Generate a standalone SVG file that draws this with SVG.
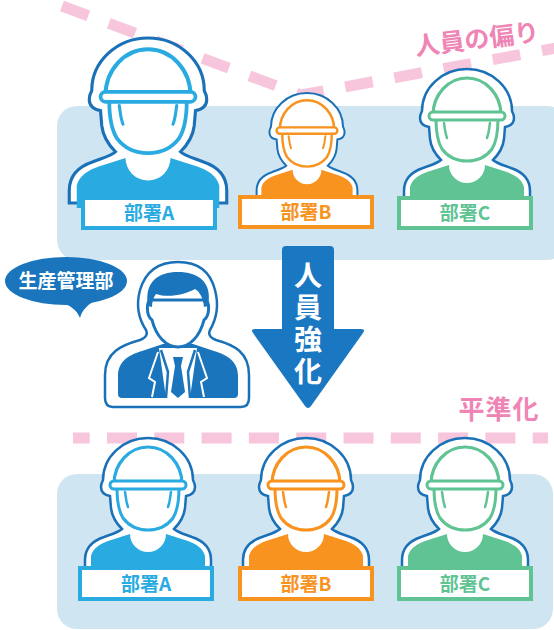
<svg xmlns="http://www.w3.org/2000/svg" xmlns:xlink="http://www.w3.org/1999/xlink" width="554" height="630" viewBox="0 0 554 630">
  <style>
    .panel { fill: #d0e5f2; }
    .dash { fill: none; stroke: #f7c6dd; stroke-width: 11; }
    .pink { fill: #ef85b5; font-family: "Noto Sans CJK JP", "Noto Sans", sans-serif; font-weight: 700; }
    .halo { fill: #fff; stroke: #1a71b8; stroke-width: 2.5; }
    .box { fill: #fff; stroke-width: 4; }
    .lbl { font-family: "Noto Sans CJK JP", "Noto Sans", sans-serif; font-weight: 700; font-size: 19px; text-anchor: middle; }
    .white { fill: #fff; font-family: "Noto Sans CJK JP", "Noto Sans", sans-serif; font-weight: 700; }
    .a { color: #29abe2; }
    .b { color: #f7931e; }
    .c { color: #5fc394; }
  </style>
  <defs>
    <!-- helmeted worker, drawn centred on x=0 with the halo top at y=0 -->
    <g id="worker">
      <path class="halo" d="M -63 132 L -63 122 C -63 110 -56 103 -44 99 C -36 96 -29 94 -26 91 C -31 86 -36 79 -37 70 L -38 58 C -44 57 -47 54 -47 49 C -47 46 -46 44 -45 42 C -45 19 -25 0 0 0 C 25 0 45 19 45 42 C 46 44 47 46 47 49 C 47 54 44 57 38 58 L 37 70 C 36 79 31 86 26 91 C 29 94 36 96 44 99 C 56 103 63 110 63 122 L 63 132 Z"/>
      <path fill="currentColor" d="M -57 136 L -57 118 C -55 110 -48 106 -40 103 L -18 96 A 18 18 0 0 0 18 96 L 40 103 C 48 106 55 110 57 118 L 57 136 Z"/>
      <path fill="#fff" stroke="currentColor" stroke-width="3" d="M -31 50 C -31 62 -30 72 -25 80 C -19 88 -10 92 0 92 C 10 92 19 88 25 80 C 30 72 31 62 31 50 Z"/>
      <path fill="none" stroke="currentColor" stroke-width="2.5" stroke-linecap="round" d="M -23 54 C -22 60 -22 64 -20 69 M 23 54 C 22 60 22 64 20 69"/>
      <path fill="#fff" stroke="currentColor" stroke-width="3.2" d="M -34 46 A 34 37 0 0 1 34 46 Z"/>
      <rect x="-38" y="43" width="76" height="8" rx="4" fill="#fff" stroke="currentColor" stroke-width="3"/>
    </g>
  </defs>

  <rect width="554" height="630" fill="#fff"/>

  <!-- department panels -->
  <rect class="panel" x="57" y="106" width="510" height="154" rx="20"/>
  <rect class="panel" x="57" y="474" width="496" height="155" rx="20"/>

  <!-- imbalance / levelling guide lines -->
  <polyline class="dash" points="62,6 301,95 556,48" stroke-dasharray="28 22"/>
  <line class="dash" x1="73" y1="438" x2="548" y2="438" stroke-dasharray="30 17.3" stroke-dashoffset="13.3"/>
  <text class="pink" font-size="25" transform="translate(478 48) rotate(-7)" text-anchor="middle">人員の偏り</text>
  <text class="pink" font-size="26" x="499" y="419" text-anchor="middle" letter-spacing="1">平準化</text>

  <!-- before: uneven staffing -->
  <g id="top-a" class="a">
    <use xlink:href="#worker" transform="translate(148 38) scale(1.25)"/>
    <rect class="box" x="83" y="198" width="132" height="30" stroke="currentColor"/>
    <text class="lbl" x="149" y="220" fill="currentColor">部署A</text>
  </g>
  <g id="top-b" class="b">
    <use xlink:href="#worker" transform="translate(307 93) scale(0.8)"/>
    <rect class="box" x="240" y="197" width="132" height="30" stroke="currentColor"/>
    <text class="lbl" x="306" y="219" fill="currentColor">部署B</text>
  </g>
  <g id="top-c" class="c">
    <use xlink:href="#worker" transform="translate(467 69)"/>
    <rect class="box" x="399" y="198" width="132" height="30" stroke="currentColor"/>
    <text class="lbl" x="465" y="220" fill="currentColor">部署C</text>
  </g>

  <!-- after: levelled staffing -->
  <g id="bottom-a" class="a">
    <use xlink:href="#worker" transform="translate(148 438)"/>
    <rect class="box" x="80" y="568" width="132" height="31" stroke="currentColor"/>
    <text class="lbl" x="146" y="590.5" fill="currentColor">部署A</text>
  </g>
  <g id="bottom-b" class="b">
    <use xlink:href="#worker" transform="translate(306 438)"/>
    <rect class="box" x="240" y="568" width="132" height="31" stroke="currentColor"/>
    <text class="lbl" x="306" y="590.5" fill="currentColor">部署B</text>
  </g>
  <g id="bottom-c" class="c">
    <use xlink:href="#worker" transform="translate(465 438)"/>
    <rect class="box" x="399" y="568" width="132" height="31" stroke="currentColor"/>
    <text class="lbl" x="465" y="590.5" fill="currentColor">部署C</text>
  </g>

  <!-- staffing reinforcement arrow -->
  <g id="arrow">
    <path fill="#1a78c2" d="M 286 246 L 330 246 Q 334 246 334 250 L 334 329 L 361 329 Q 366 329 363 333 L 311 406 Q 308 410 305 406 L 253 333 Q 250 329 255 329 L 282 329 L 282 250 Q 282 246 286 246 Z"/>
    <text class="white" font-size="28" x="308" y="261" writing-mode="vertical-rl" letter-spacing="4">人員強化</text>
  </g>

  <!-- production management -->
  <g id="manager">
    <path class="halo" stroke-width="3" d="M 113 407 Q 105 407 105 398 L 105 375 C 105 352 122 345 140 340 C 146 338 148 334 146 330 C 138 318 136 305 140 290 C 146 270 160 262 178 262 C 196 262 210 270 215 290 C 219 305 217 318 210 330 C 208 334 210 338 216 340 C 234 345 249 352 249 375 L 249 398 Q 249 407 241 407 Z"/>
    <path fill="#1a75bc" d="M 118 394 L 118 376 C 118 362 128 355 142 351 L 163 344 L 193 344 L 214 351 C 228 355 238 362 238 376 L 238 394 Q 238 398 234 398 L 122 398 Q 118 398 118 394 Z"/>
    <polygon fill="#fff" points="159,348 197,348 190,398 166,398"/>
    <polygon fill="#1a75bc" points="173,357 183,357 181,366 175,366"/>
    <polygon fill="#1a75bc" points="175,366 181,366 185,392 178,398 171,392"/>
    <polyline fill="none" stroke="#1a75bc" stroke-width="2.5" points="161,350 168,372 166,398"/>
    <polyline fill="none" stroke="#1a75bc" stroke-width="2.5" points="195,350 188,372 190,398"/>
    <polyline fill="none" stroke="#fff" stroke-width="2" points="158,352 149,378 155,382 152,397"/>
    <polyline fill="none" stroke="#fff" stroke-width="2" points="198,352 207,378 201,382 204,397"/>
    <path fill="#fff" stroke="#1a75bc" stroke-width="3" d="M 151 300 C 146 300 146 316 152 320 C 156 336 166 347 178 347 C 190 347 200 336 204 320 C 210 316 210 300 205 300 Z"/>
    <path fill="#1a75bc" d="M 148 306 C 144 282 158 272 178 272 C 198 272 213 282 208 306 L 204 307 C 203 298 200 292 195 289 C 184 295 168 298 156 294 C 153 298 152 302 152 307 Z"/>
  </g>

  <!-- speech bubble -->
  <g id="bubble">
    <ellipse cx="66" cy="281" rx="61" ry="24" fill="#1a75bc"/>
    <path fill="#1a75bc" d="M 60 302 C 70 305 77 310 80 318 C 82 310 88 304 98 299 Z"/>
    <text class="white" font-size="19" x="66" y="288" text-anchor="middle">生産管理部</text>
  </g>
</svg>
